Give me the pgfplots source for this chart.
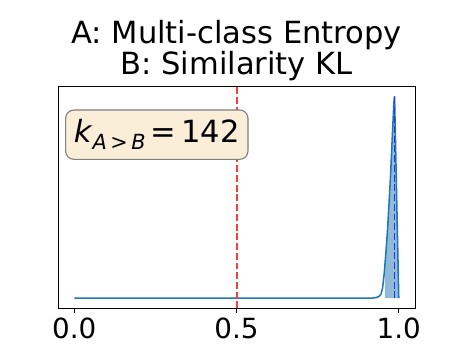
\documentclass[border=0pt]{standalone}
\usepackage{fontspec}
\setmainfont{DejaVu Sans}
\usepackage{pgfplots}
\pgfplotsset{compat=1.18}
\definecolor{mplblue}{HTML}{1F77B4}
\definecolor{boxfill}{HTML}{FAEED9}
\definecolor{redline}{RGB}{255,60,60}
\definecolor{blueline}{RGB}{45,45,255}
\begin{document}
\begin{tikzpicture}
\begin{axis}[
    name=ax,
    scale only axis,
    width=257pt, height=160pt,
    xmin=-0.05, xmax=1.05,
    ymin=-2.5, ymax=52.5,
    xtick={0,0.5,1},
    xticklabels={0.0,0.5,1.0},
    ytick=\empty,
    tick align=outside,
    major tick length=3pt,
    xtick pos=bottom,
    axis line style={line width=0.6pt},
    tick style={line width=0.6pt, black},
    ticklabel style={font=\fontsize{20}{24}\selectfont},
    title={A: Multi-class Entropy\\B: Similarity KL},
    title style={font=\fontsize{22}{22.5}\selectfont, align=center, yshift=-6pt},
    clip=false,
]
% shaded region under the density
\addplot[fill=mplblue, fill opacity=0.5, draw=none] coordinates {
    (0.957,0) (0.957,7.5) (0.960,11) (0.965,16.5) (0.970,23.5) (0.975,31)
    (0.980,40) (0.985,48.5) (0.987,50) (0.990,38.5) (0.9935,25) (0.997,11.5) (1.000,0)
};
% density curve
\addplot[color=mplblue, line width=1.1pt] coordinates {
    (0.000,0) (0.100,0) (0.200,0) (0.300,0) (0.400,0) (0.500,0) (0.600,0)
    (0.700,0) (0.800,0) (0.900,0) (0.920,0.05) (0.930,0.15) (0.940,0.5)
    (0.945,1) (0.950,2.5) (0.955,6) (0.960,11) (0.965,16.5) (0.970,23.5)
    (0.975,31) (0.980,40) (0.985,48.5) (0.987,50) (0.990,38.5) (0.9935,25)
    (0.997,11.5) (1.000,0)
};
% threshold line
\addplot[color=redline, line width=1.4pt, dash pattern=on 5pt off 2pt] coordinates {(0.5,-2.5) (0.5,52.5)};
% mean line
\addplot[color=blueline, line width=1.3pt, dash pattern=on 5pt off 2pt] coordinates {(0.987,0) (0.987,50)};
\node[anchor=north west, fill=boxfill, draw=black!50, line width=0.8pt,
      rounded corners=6pt, inner xsep=6pt, inner ysep=7pt,
      font=\fontsize{22}{24}\selectfont]
    at (rel axis cs:0.0196,0.895)
    {\textit{k}\raisebox{-0.4ex}{\fontsize{15}{16}\selectfont\textit{A}\,>\,\textit{B}}\,=\,142};
\end{axis}
\pgfresetboundingbox
\path ([xshift=-41.8pt,yshift=-26.6pt]ax.south west) rectangle ([xshift=32.4pt,yshift=62pt]ax.north east);
\end{tikzpicture}
\end{document}
